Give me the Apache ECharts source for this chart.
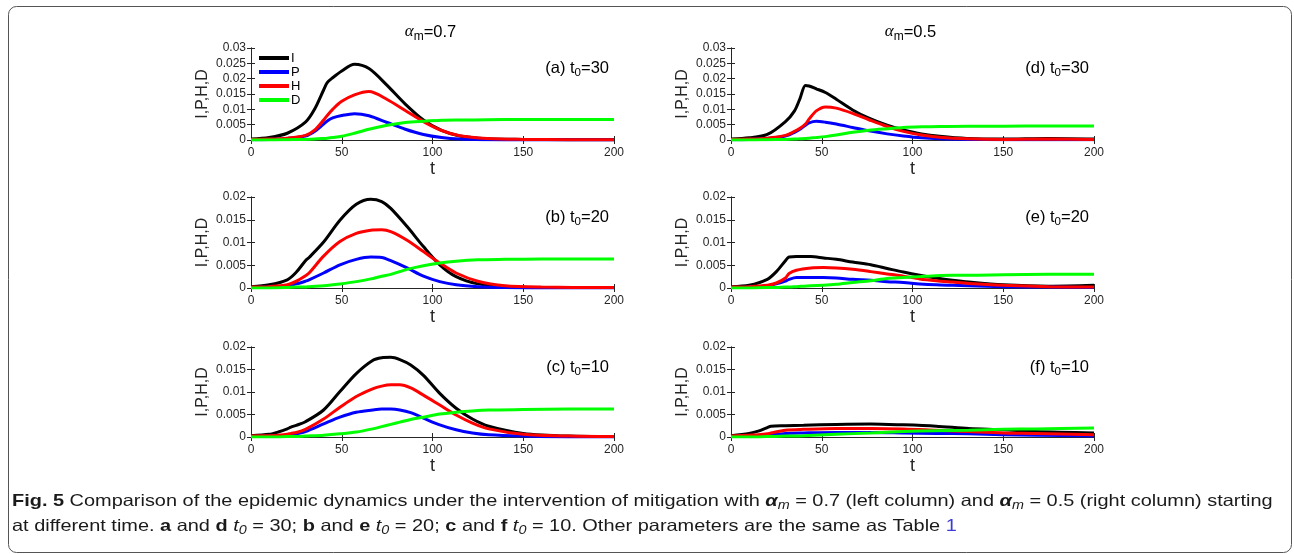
<!DOCTYPE html>
<html>
<head>
<meta charset="utf-8">
<script src="https://cdn.jsdelivr.net/npm/echarts@6/dist/echarts.min.js"></script>
<style>
  html, body { margin: 0; padding: 0; background: #fff; }
  #main { width: 1294px; height: 554px; }
</style>
</head>
<body>
<div id="main"></div>
<script>
// ---- data ----
// (a) alpha_m = 0.7, t0 = 30
const tA = [0, 10, 20, 30, 35, 40, 42, 45, 50, 57, 65, 75, 85, 95, 105, 115, 130, 150, 175, 200];
const iA = [0.0003, 0.0008, 0.0022, 0.0058, 0.0100, 0.0163, 0.0187, 0.0203, 0.0225, 0.0247, 0.0233, 0.0178, 0.0117, 0.0065, 0.0031, 0.0013, 0.0004, 0.0002, 0.0001, 0.0001];
const pA = [0.0001, 0.0002, 0.0005, 0.0013, 0.0028, 0.0052, 0.0062, 0.0072, 0.0080, 0.0086, 0.0079, 0.0057, 0.0035, 0.0018, 0.0008, 0.0003, 0.0001, 0, 0, 0];
const hA = [0.0002, 0.0003, 0.0006, 0.0015, 0.0032, 0.0065, 0.0080, 0.0100, 0.0126, 0.0147, 0.0158, 0.0132, 0.0096, 0.0060, 0.0031, 0.0014, 0.0005, 0.0002, 0.0001, 0.0001];
const dA = [0, 0, 0.0001, 0.0002, 0.0003, 0.0005, 0.0006, 0.0008, 0.0012, 0.0022, 0.0035, 0.0048, 0.0057, 0.0061, 0.0064, 0.0065, 0.0066, 0.0067, 0.0067, 0.0067];

// (b) alpha_m = 0.7, t0 = 20
const tB = [0, 10, 20, 25, 30, 32, 40, 49, 58, 66, 72, 77, 86, 95, 104, 113, 125, 140, 160, 200];
const iB = [0.0003, 0.0007, 0.0018, 0.0035, 0.0060, 0.0067, 0.0101, 0.0149, 0.0184, 0.0195, 0.0190, 0.0175, 0.0135, 0.0091, 0.0051, 0.0025, 0.0009, 0.0003, 0.0001, 0.0001];
const pB = [0.0001, 0.0002, 0.0005, 0.0009, 0.0015, 0.0018, 0.0033, 0.0051, 0.0063, 0.0068, 0.0067, 0.0060, 0.0044, 0.0026, 0.0014, 0.0007, 0.0003, 0.0001, 0, 0];
const hB = [0.0002, 0.0003, 0.0007, 0.0015, 0.0027, 0.0033, 0.0070, 0.0102, 0.0120, 0.0127, 0.0128, 0.0124, 0.0105, 0.0080, 0.0055, 0.0033, 0.0015, 0.0005, 0.0002, 0.0001];
const dB = [0, 0, 0.0001, 0.0002, 0.0002, 0.0003, 0.0005, 0.0009, 0.0014, 0.0020, 0.0026, 0.0030, 0.0041, 0.0049, 0.0055, 0.0059, 0.0062, 0.0063, 0.0064, 0.0064];

// (c) alpha_m = 0.7, t0 = 10
const tC = [0, 10, 15, 20, 22, 25, 30, 40, 49, 58, 67, 72, 77, 82, 88, 95, 104, 113, 122, 131, 150, 175, 200];
const iC = [0.0003, 0.0006, 0.0011, 0.0018, 0.0022, 0.0026, 0.0034, 0.0060, 0.0101, 0.0141, 0.0170, 0.0176, 0.0177, 0.0172, 0.0160, 0.0137, 0.0097, 0.0064, 0.0040, 0.0024, 0.0008, 0.0002, 0.0001];
const pC = [0.0001, 0.0002, 0.0003, 0.0004, 0.0005, 0.0007, 0.0012, 0.0029, 0.0044, 0.0055, 0.0060, 0.0062, 0.0062, 0.0060, 0.0054, 0.0042, 0.0027, 0.0016, 0.0009, 0.0005, 0.0002, 0, 0];
const hC = [0.0002, 0.0003, 0.0004, 0.0006, 0.0008, 0.0010, 0.0017, 0.0040, 0.0066, 0.0090, 0.0107, 0.0113, 0.0116, 0.0116, 0.0109, 0.0093, 0.0071, 0.0049, 0.0031, 0.0018, 0.0006, 0.0002, 0.0001];
const dC = [0, 0, 0, 0.0001, 0.0001, 0.0001, 0.0002, 0.0004, 0.0007, 0.0011, 0.0018, 0.0023, 0.0028, 0.0033, 0.0039, 0.0044, 0.0051, 0.0055, 0.0058, 0.0060, 0.0061, 0.0062, 0.0062];

// (d) alpha_m = 0.5, t0 = 30
const tD = [0, 10, 20, 30, 35, 38, 41, 43, 47, 52, 58, 67, 76, 86, 95, 105, 115, 130, 150, 175, 200];
const iD = [0.0003, 0.0007, 0.0018, 0.0060, 0.0095, 0.0135, 0.0178, 0.0176, 0.0167, 0.0155, 0.0133, 0.0098, 0.0071, 0.0048, 0.0033, 0.0020, 0.0012, 0.0005, 0.0003, 0.0005, 0.0003];
const pD = [0.0001, 0.0002, 0.0005, 0.0013, 0.0025, 0.0035, 0.0048, 0.0056, 0.0061, 0.0058, 0.0052, 0.0041, 0.0030, 0.0020, 0.0013, 0.0007, 0.0004, 0.0002, 0.0001, 0.0001, 0.0001];
const hD = [0.0002, 0.0003, 0.0006, 0.0015, 0.0028, 0.0038, 0.0052, 0.0068, 0.0095, 0.0108, 0.0104, 0.0087, 0.0066, 0.0044, 0.0028, 0.0016, 0.0009, 0.0004, 0.0002, 0.0003, 0.0002];
const dD = [0, 0, 0.0001, 0.0002, 0.0003, 0.0004, 0.0005, 0.0006, 0.0008, 0.0011, 0.0016, 0.0025, 0.0032, 0.0037, 0.0041, 0.0043, 0.0044, 0.0045, 0.0045, 0.0046, 0.0046];

// (e) alpha_m = 0.5, t0 = 20
const tE = [0, 10, 20, 25, 30, 32, 36, 44, 51, 58, 67, 77, 86, 95, 104, 113, 122, 131, 150, 175, 200];
const iE = [0.0003, 0.0006, 0.0019, 0.0036, 0.0060, 0.0068, 0.0069, 0.0069, 0.0066, 0.0063, 0.0057, 0.0051, 0.0043, 0.0035, 0.0028, 0.0022, 0.0017, 0.0013, 0.0007, 0.0004, 0.0006];
const pE = [0.0001, 0.0002, 0.0005, 0.0009, 0.0015, 0.0019, 0.0023, 0.0023, 0.0023, 0.0022, 0.0019, 0.0017, 0.0014, 0.0012, 0.0009, 0.0007, 0.0006, 0.0005, 0.0003, 0.0002, 0.0001];
const hE = [0.0002, 0.0003, 0.0006, 0.0011, 0.0022, 0.0032, 0.0039, 0.0044, 0.0045, 0.0044, 0.0041, 0.0036, 0.0031, 0.0026, 0.0020, 0.0016, 0.0013, 0.0010, 0.0006, 0.0003, 0.0002];
const dE = [0, 0, 0.0001, 0.0001, 0.0002, 0.0002, 0.0003, 0.0005, 0.0006, 0.0008, 0.0012, 0.0016, 0.0021, 0.0023, 0.0025, 0.0027, 0.0028, 0.0028, 0.0029, 0.0030, 0.0030];

// (f) alpha_m = 0.5, t0 = 10
const tF = [0, 10, 15, 20, 22, 30, 40, 58, 77, 95, 113, 131, 150, 168, 200];
const iF = [0.0003, 0.0008, 0.0013, 0.0021, 0.0024, 0.0025, 0.0026, 0.0028, 0.0029, 0.0027, 0.0024, 0.0019, 0.0016, 0.0012, 0.0009];
const pF = [0.0001, 0.0002, 0.0003, 0.0004, 0.0005, 0.0008, 0.0009, 0.0010, 0.0010, 0.0009, 0.0008, 0.0007, 0.0005, 0.0004, 0.0002];
const hF = [0.0002, 0.0004, 0.0005, 0.0007, 0.0009, 0.0015, 0.0017, 0.0019, 0.0019, 0.0018, 0.0015, 0.0012, 0.0009, 0.0008, 0.0005];
const dF = [0, 0, 0, 0.0001, 0.0001, 0.0002, 0.0003, 0.0006, 0.0009, 0.0012, 0.0014, 0.0015, 0.0017, 0.0018, 0.0020];

const seriesNames = ['I', 'P', 'H', 'D'];
const seriesColors = ['#000000', '#0000ff', '#ff0000', '#00ff00'];
const columnTitles = ['0.7', '0.5'];

// ---- layout ----
const panels = [
  { tag: '(a)', t0: '30', t: tA, ys: [iA, pA, hA, dA], left: 251, top: 48, height: 92, max: 0.03 },
  { tag: '(b)', t0: '20', t: tB, ys: [iB, pB, hB, dB], left: 251, top: 197, height: 91, max: 0.02 },
  { tag: '(c)', t0: '10', t: tC, ys: [iC, pC, hC, dC], left: 251, top: 347, height: 90, max: 0.02 },
  { tag: '(d)', t0: '30', t: tD, ys: [iD, pD, hD, dD], left: 731, top: 48, height: 92, max: 0.03 },
  { tag: '(e)', t0: '20', t: tE, ys: [iE, pE, hE, dE], left: 731, top: 197, height: 91, max: 0.02 },
  { tag: '(f)', t0: '10', t: tF, ys: [iF, pF, hF, dF], left: 731, top: 347, height: 90, max: 0.02 }
];
const plotW = 363;
const axisColor = '#262626';
const sans = "'Liberation Sans', Arial, sans-serif";

const grid = [], xAxis = [], yAxis = [], series = [], graphic = [];

panels.forEach((p, i) => {
  grid.push({ left: p.left, top: p.top, width: plotW, height: p.height });
  const lineSt = { show: true, lineStyle: { color: axisColor, width: 1 } };
  const tick = { show: true, inside: true, length: 4, lineStyle: { color: axisColor } };
  xAxis.push({
    type: 'value', gridIndex: i, min: 0, max: 200, interval: 50,
    axisLine: lineSt, axisTick: tick, splitLine: { show: false },
    axisLabel: { color: axisColor, fontSize: 12, fontFamily: sans, margin: 7 },
    name: 't', nameLocation: 'middle', nameGap: 20,
    nameTextStyle: { color: axisColor, fontSize: 18, fontFamily: sans, verticalAlign: 'top' }
  });
  xAxis.push({
    type: 'value', gridIndex: i, position: 'top', min: 0, max: 200, interval: 50,
    axisLine: lineSt, axisTick: tick, splitLine: { show: false }, axisLabel: { show: false }
  });
  yAxis.push({
    type: 'value', gridIndex: i, min: 0, max: p.max, interval: 0.005,
    axisLine: lineSt, axisTick: tick, splitLine: { show: false },
    axisLabel: {
      color: axisColor, fontSize: 12, fontFamily: sans, margin: 5,
      formatter: v => (v === 0 ? '0' : String(+v.toFixed(3)))
    },
    name: 'I,P,H,D', nameLocation: 'middle', nameGap: 40,
    nameTextStyle: { color: axisColor, fontSize: 16, fontFamily: sans }
  });
  yAxis.push({
    type: 'value', gridIndex: i, position: 'right', min: 0, max: p.max, interval: 0.005,
    axisLine: lineSt, axisTick: tick, splitLine: { show: false }, axisLabel: { show: false }
  });
  seriesNames.forEach((name, k) => {
    series.push({
      name: name, type: 'line', xAxisIndex: 2 * i, yAxisIndex: 2 * i,
      data: p.t.map((t, j) => [t, p.ys[k][j]]),
      symbol: 'none', smooth: 0.3,
      lineStyle: { width: 3, color: seriesColors[k] },
      itemStyle: { color: seriesColors[k] },
      z: 2 + k
    });
  });
  // panel label, with white box over the frame like the original
  graphic.push({
    type: 'text', z: 50,
    style: {
      text: '{n|' + p.tag + ' t}{z|0}{n|=' + p.t0 + '}',
      x: p.left + plotW - 3, y: p.top + 17, align: 'right', verticalAlign: 'middle',
      backgroundColor: '#fff', padding: [9, 2, 3, 4],
      rich: {
        n: { fontSize: 16.5, fontFamily: sans, fill: '#000', lineHeight: 22, verticalAlign: 'middle' },
        z: { fontSize: 11.5, fontFamily: sans, fill: '#000', lineHeight: 12, verticalAlign: 'bottom' }
      }
    }
  });
});

// column titles
columnTitles.forEach((a, c) => {
  graphic.push({
    type: 'text', z: 50,
    style: {
      text: '{g|α}{s|m}{n|=' + a + '}',
      x: [251, 731][c] + plotW / 2 - 2, y: 32, align: 'center', verticalAlign: 'middle',
      rich: {
        g: { fontSize: 17, fontFamily: "'Liberation Serif', serif", fontStyle: 'italic', fill: '#000', lineHeight: 22, verticalAlign: 'middle' },
        s: { fontSize: 12, fontFamily: sans, fill: '#000', lineHeight: 12, verticalAlign: 'bottom' },
        n: { fontSize: 16.5, fontFamily: sans, fill: '#000', lineHeight: 22, verticalAlign: 'middle' }
      }
    }
  });
});

// caption (regular sans, squeezed horizontally to the original's condensed width)
const capFont = "'Liberation Sans', Arial, sans-serif";
const capSize = 16.5;
const cap1Plain = 'Fig. 5 Comparison of the epidemic dynamics under the intervention of mitigation with αm = 0.7 (left column) and αm = 0.5 (right column) starting';
const mctx = document.createElement('canvas').getContext('2d');
mctx.font = capSize + 'px ' + capFont;
const capScale = 1266 / mctx.measureText(cap1Plain).width;
const capRich = {
  n: { fontSize: capSize, fontFamily: capFont, fill: '#1a1a1a', lineHeight: 22, verticalAlign: 'middle' },
  b: { fontSize: capSize, fontFamily: capFont, fontWeight: 'bold', fill: '#1a1a1a', lineHeight: 22, verticalAlign: 'middle' },
  g: { fontSize: capSize, fontFamily: capFont, fontWeight: 'bold', fontStyle: 'italic', fill: '#1a1a1a', lineHeight: 22, verticalAlign: 'middle' },
  i: { fontSize: capSize, fontFamily: capFont, fontStyle: 'italic', fill: '#1a1a1a', lineHeight: 22, verticalAlign: 'middle' },
  m: { fontSize: capSize * 0.72, fontFamily: capFont, fontStyle: 'italic', fill: '#1a1a1a', lineHeight: 14, verticalAlign: 'bottom' },
  l: { fontSize: capSize, fontFamily: capFont, fill: '#3b3bd6', lineHeight: 22, verticalAlign: 'middle' }
};
graphic.push({
  type: 'text', z: 50, x: 12, y: 501, scaleX: capScale,
  style: {
    text: '{b|Fig. 5}{n| Comparison of the epidemic dynamics under the intervention of mitigation with }{g|α}{m|m}{n| = 0.7 (left column) and }{g|α}{m|m}{n| = 0.5 (right column) starting}',
    x: 0, y: 0, align: 'left', verticalAlign: 'middle', rich: capRich
  }
});
graphic.push({
  type: 'text', z: 50, x: 12, y: 526, scaleX: capScale,
  style: {
    text: '{n|at different time. }{b|a}{n| and }{b|d}{n| }{i|t}{m|0}{n| = 30; }{b|b}{n| and }{b|e}{n| }{i|t}{m|0}{n| = 20; }{b|c}{n| and }{b|f}{n| }{i|t}{m|0}{n| = 10. Other parameters are the same as Table }{l|1}',
    x: 0, y: 0, align: 'left', verticalAlign: 'middle', rich: capRich
  }
});

// rounded frame around the figure
graphic.push({
  type: 'rect', z: 0, silent: true,
  shape: { x: 8.5, y: 6.5, width: 1283, height: 546, r: 8 },
  style: { fill: 'none', stroke: '#555', lineWidth: 1 }
});

const option = {
  animation: false,
  backgroundColor: '#fff',
  grid: grid,
  xAxis: xAxis,
  yAxis: yAxis,
  legend: {
    data: seriesNames, orient: 'vertical', left: 257, top: 51,
    itemWidth: 30, itemHeight: 14, itemGap: 0, padding: 0,
    itemStyle: { opacity: 0 },
    lineStyle: { width: 4 },
    textStyle: { fontSize: 13, color: '#000', fontFamily: sans, lineHeight: 14, padding: [0, 0, 0, -3] }
  },
  series: series,
  graphic: graphic
};

const chart = echarts.init(document.getElementById('main'));
chart.setOption(option);
</script>
</body>
</html>
